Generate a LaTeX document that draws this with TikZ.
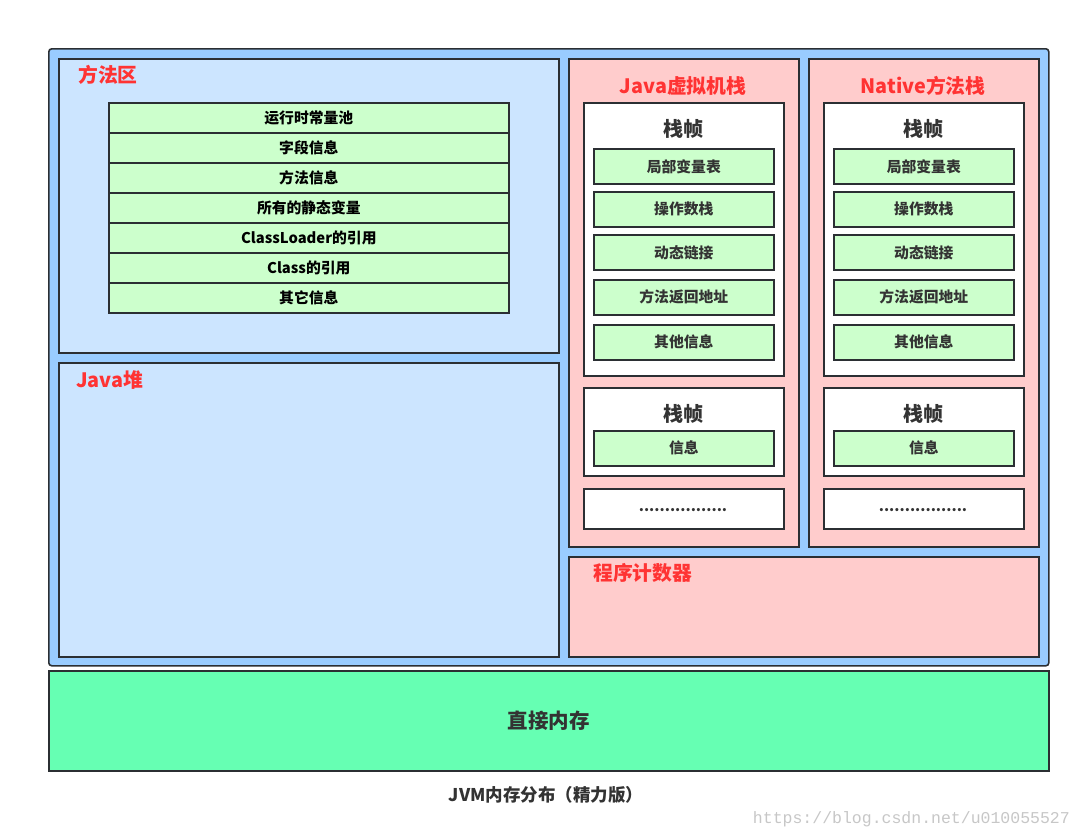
\documentclass[tikz,border=0pt]{standalone}
\usepackage{fontspec}
\setmainfont{Noto Sans CJK SC}
\newfontfamily\wmfont{Liberation Mono}
\definecolor{edge}{HTML}{2B2F33}
\definecolor{outerblue}{HTML}{99CCFF}
\definecolor{areablue}{HTML}{CCE5FF}
\definecolor{stackpink}{HTML}{FFCCCC}
\definecolor{itemgreen}{HTML}{CCFFCC}
\definecolor{directgreen}{HTML}{66FFB3}
\definecolor{titlered}{HTML}{FF3333}
\definecolor{txt}{HTML}{333333}
\tikzset{
  box/.style={draw=edge, line width=1.6pt, inner sep=0pt, anchor=north west},
  title/.style={text=titlered, font=\bfseries\fontsize{19.8}{22}\selectfont, inner sep=0pt},
  itemtext/.style={text=txt, font=\bfseries\fontsize{14.8}{17}\selectfont, inner sep=0pt},
  frametext/.style={text=txt, font=\bfseries\fontsize{20}{22}\selectfont, inner sep=0pt},
}
\begin{document}
\begin{tikzpicture}[x=1pt,y=-1pt]
\useasboundingbox (0,0) rectangle (1080,839);
\fill[white] (0,0) rectangle (1080,839);

% outer JVM area
\node[box, fill=outerblue, rounded corners=3pt, minimum width=1000pt, minimum height=617pt] (jvm) at (48,48) {};

% method area
\node[box, fill=areablue, minimum width=500pt, minimum height=294pt] (method) at (58,58) {};
\node[title, anchor=west, font=\bfseries\fontsize{19.8}{22}\selectfont] (methodT) at (78,75) {方法区};
\foreach \t [count=\i] in {运行时常量池,字段信息,方法信息,所有的静态变量,ClassLoader的引用,Class的引用,其它信息} {
  \node[box, fill=itemgreen, minimum width=400pt, minimum height=30pt] (row\i) at (108,{102+30*(\i-1)}) {};
  \node[itemtext, text=black] (rowT\i) at (row\i.center) {\t};
}

% java heap
\node[box, fill=areablue, minimum width=500pt, minimum height=294pt] (heap) at (58,362) {};
\node[title, anchor=west] (heapT) at (76,380) {Java堆};

% stacks
\foreach \p/\dx/\tt in {j/0/Java虚拟机栈, n/240/Native方法栈} {
  \node[box, fill=stackpink, minimum width=230pt, minimum height=488pt] (\p stack) at ({568+\dx},58) {};
  \node[title] (\p stackT) at ({683+\dx},86) {\tt};
  \node[box, fill=white, minimum width=200pt, minimum height=273pt] (\p frameA) at ({583+\dx},102) {};
  \node[frametext] (\p frameAT) at ({683+\dx},129) {栈帧};
  \foreach \it/\yy [count=\k] in {局部变量表/148,操作数栈/191,动态链接/234,方法返回地址/279,其他信息/324} {
    \node[box, fill=itemgreen, minimum width=180pt, minimum height=35pt] (\p item\k) at ({593+\dx},\yy) {};
    \node[itemtext] (\p itemT\k) at (\p item\k.center) {\it};
  }
  \node[box, fill=white, minimum width=200pt, minimum height=88pt] (\p frameB) at ({583+\dx},387) {};
  \node[frametext] (\p frameBT) at ({683+\dx},414) {栈帧};
  \node[box, fill=itemgreen, minimum width=180pt, minimum height=35pt] (\p info) at ({593+\dx},430) {};
  \node[itemtext] (\p infoT) at (\p info.center) {信息};
  \node[box, fill=white, minimum width=200pt, minimum height=40pt] (\p more) at ({583+\dx},488) {};
  \node[itemtext] (\p moreT) at ({683+\dx},510) {.................};
}

% program counter
\node[box, fill=stackpink, minimum width=470pt, minimum height=100pt] (pc) at (568,556) {};
\node[title, anchor=west] (pcT) at (593,573) {程序计数器};

% direct memory
\node[box, fill=directgreen, minimum width=1000pt, minimum height=100pt] (direct) at (48,670) {};
\node[frametext, font=\bfseries\fontsize{20.5}{23}\selectfont] (directT) at (direct.center) {直接内存};

% caption
\node[text=txt, font=\bfseries\fontsize{17.5}{20}\selectfont, inner sep=0pt] (caption) at (546,795) {JVM内存分布（精力版）};

% watermark
\node[text=black!22, font=\wmfont\fontsize{16.5}{18}\selectfont, inner sep=0pt, anchor=east] (wm) at (1070,819) {https://blog.csdn.net/u010055527};
\end{tikzpicture}
\end{document}
